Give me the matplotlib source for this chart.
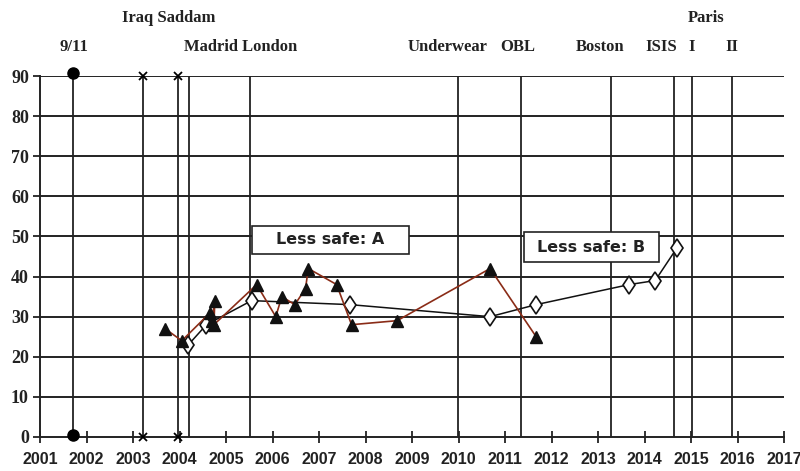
import matplotlib
matplotlib.use("Agg")
import matplotlib.pyplot as plt
from matplotlib.patches import Rectangle

# series A: filled triangles, brown line
a_years = [2003.69, 2004.05, 2004.66, 2004.70, 2004.76, 2004.74, 2005.66, 2006.07,
           2006.20, 2006.48, 2006.71, 2006.77, 2007.38, 2007.70, 2008.68, 2010.68, 2011.67]
a_vals = [27, 24, 31, 29, 34, 28, 38, 30, 35, 33, 37, 42, 38, 28, 29, 42, 25]

# series B: open diamonds, black line
b_years = [2004.19, 2004.58, 2005.55, 2007.67, 2010.68, 2011.67, 2013.67, 2014.23, 2014.69]
b_vals = [23, 28, 34, 33, 30, 33, 38, 39, 47]

# event lines
event_years = [2001.70, 2003.22, 2003.96, 2004.21, 2005.52, 2009.98, 2011.34,
               2013.29, 2014.64, 2015.02, 2015.89]
circle_events = [2001.70]
cross_events = [2003.22, 2003.96]

# labels above the plot: (text, x, row)
top_labels = [("9/11", 2001.73, 2), ("Iraq Saddam", 2003.77, 1), ("Madrid London", 2005.32, 2),
              ("Underwear", 2009.77, 2), ("OBL", 2011.28, 2), ("Boston", 2013.04, 2),
              ("ISIS", 2014.35, 2), ("I", 2015.02, 2), ("II", 2015.88, 2), ("Paris", 2015.32, 1)]

# annotation boxes: text, x0, x1, y0, y1
boxes = [("Less safe: A", 2005.56, 2008.94, 45.6, 52.7),
         ("Less safe: B", 2011.41, 2014.31, 43.6, 51.1)]

years = list(range(2001, 2018))
yticks = list(range(0, 100, 10))

brown = "#8a2c17"
ink = "#222222"
serif = ["Liberation Serif", "DejaVu Serif"]
sans = ["Liberation Sans", "DejaVu Sans"]

fig = plt.figure(figsize=(8, 4.71), dpi=100)
ax = fig.add_axes([0.05, 0.0722, 0.93, 0.7664])
ax.set_xlim(2001, 2017)
ax.set_ylim(0, 90)

for s in ["top", "right"]:
    ax.spines[s].set_visible(False)
for s in ["left", "bottom"]:
    ax.spines[s].set_linewidth(1.4)
    ax.spines[s].set_color(ink)

# horizontal grid
for v in yticks[1:]:
    ax.axhline(v, color=ink, lw=1.4, zorder=1)

# event lines
for ev in event_years:
    ax.plot([ev, ev], [0, 90], color=ink, lw=1.3, zorder=1)
for ev in circle_events:
    ax.plot([ev, ev], [0.5, 90.8], "o", color="black", ms=8, ls="none", zorder=3, clip_on=False)
for ev in cross_events:
    ax.plot([ev, ev], [0, 90], "x", color="black", ms=6, mew=1.3, ls="none", zorder=3, clip_on=False)

ax.plot(b_years, b_vals, color="#111111", lw=1.1, marker="d", ms=9.5, mfc="white",
        mec="#111111", mew=1.2, zorder=4)
ax.plot(a_years, a_vals, color=brown, lw=1.2, zorder=5)
ax.plot(a_years, a_vals, ls="none", marker="^", ms=9, color="#111111", zorder=6)

ax.set_xticks(years)
ax.set_yticks(yticks)
ax.tick_params(axis="x", direction="inout", length=9, width=1.3, color=ink, pad=6)
ax.tick_params(axis="y", direction="out", length=5, width=1.3, color=ink, pad=3)
for lab in ax.get_xticklabels():
    lab.set_fontfamily(sans)
    lab.set_fontweight("bold")
    lab.set_fontsize(11.5)
    lab.set_color(ink)
for lab in ax.get_yticklabels():
    lab.set_fontfamily(serif)
    lab.set_fontweight("bold")
    lab.set_fontsize(13)
    lab.set_color(ink)

row_y = {1: 104.5, 2: 97.3}
for txt, x, row in top_labels:
    ax.text(x, row_y[row], txt, ha="center", va="center", fontsize=12, fontweight="bold",
            family=serif, color=ink, clip_on=False)

for txt, x0, x1, y0, y1 in boxes:
    ax.add_patch(Rectangle((x0, y0), x1 - x0, y1 - y0, fc="white", ec=ink, lw=1.2, zorder=7))
    ax.text((x0 + x1) / 2, (y0 + y1) / 2, txt, ha="center", va="center", fontsize=11.5,
            fontweight="bold", family=["DejaVu Sans"], color=ink, zorder=8)

fig.savefig("out.png", dpi=100)
